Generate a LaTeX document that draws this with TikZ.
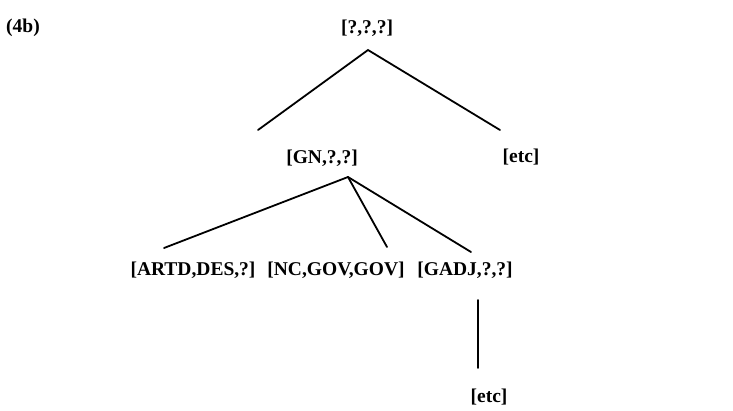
\documentclass[tikz,border=0pt]{standalone}
\usepackage{fontspec}
\setmainfont{Liberation Serif}
\begin{document}
\begin{tikzpicture}[x=1pt,y=-1pt,
  lab/.style={font=\fontsize{19.5}{21}\selectfont\bfseries, inner sep=0pt, anchor=center},
  branch/.style={line width=1.8pt, line cap=round}]
\useasboundingbox (0,0) rectangle (733,410);
% example number
\node[lab, anchor=west] (ex) at (6,28) {(4b)};
% labelled nodes
\node[lab] (root) at (367,28) {[?,?,?]};
\node[lab] (gn) at (322,158) {[GN,?,?]};
\node[lab] (etc1) at (521,157) {[etc]};
\node[lab] (artd) at (193,270) {[ARTD,DES,?]};
\node[lab] (nc) at (336,270) {[NC,GOV,GOV]};
\node[lab] (gadj) at (465,270) {[GADJ,?,?]};
\node[lab] (etc2) at (489,397) {[etc]};
% branch end points
\coordinate (r0) at (368,50);
\coordinate (r1) at (258,130);
\coordinate (r2) at (500,130);
\coordinate (g0) at (348,177);
\coordinate (g1) at (164,248);
\coordinate (g2) at (387,247);
\coordinate (g3) at (471,252);
\coordinate (a0) at (478,300);
\coordinate (a1) at (478,368);
% branches
\draw[branch] (r1) -- (r0) -- (r2);
\draw[branch] (g0) -- (g1);
\draw[branch] (g0) -- (g2);
\draw[branch] (g0) -- (g3);
\draw[branch] (a0) -- (a1);
\end{tikzpicture}
\end{document}
